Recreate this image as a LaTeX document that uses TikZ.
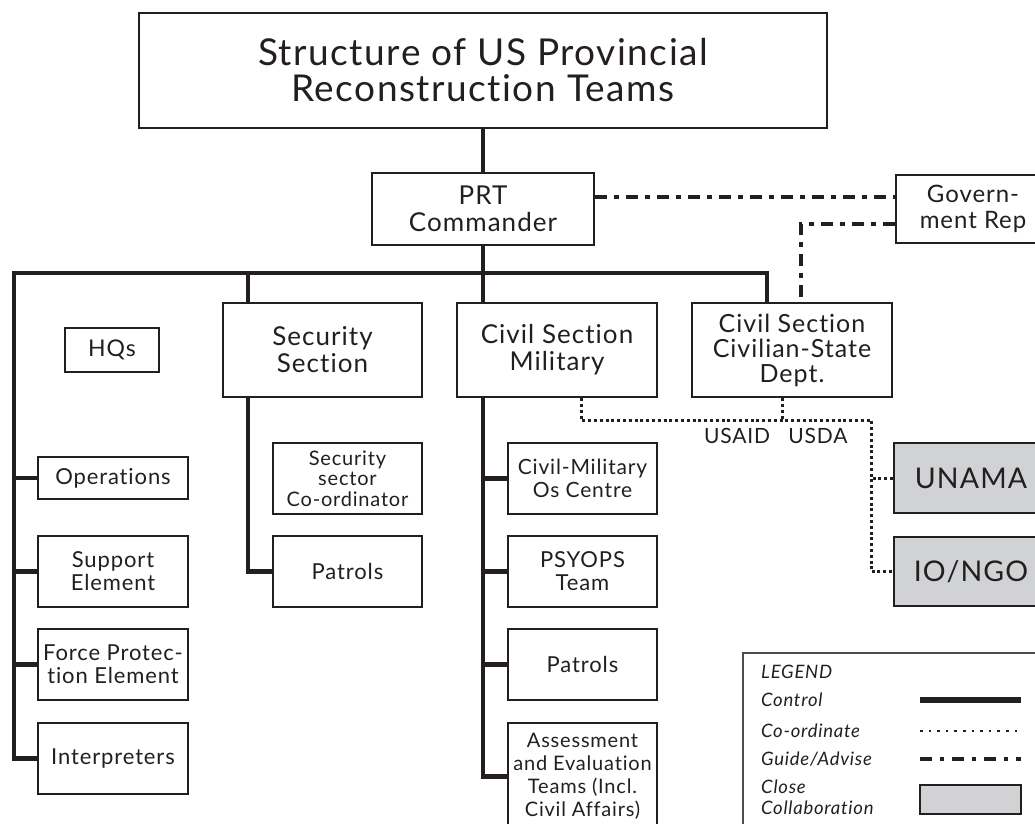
\documentclass[tikz,border=0pt]{standalone}
\usepackage{fontspec}
\setmainfont{Lato}[LetterSpace=4, Ligatures=NoCommon]
\begin{document}
\definecolor{ink}{HTML}{231F20}
\definecolor{collab}{HTML}{D1D2D4}
\newcommand{\fs}[2]{\fontsize{#1}{#2}\selectfont}
\begin{tikzpicture}[x=1pt,y=-1pt,
  box/.style={draw=ink, line width=2.2pt, fill=white, inner sep=0pt,
    align=center, text=ink},
  grey/.style={box, fill=collab},
  ctrl/.style={draw=ink, line width=4.8pt, line join=miter, line cap=butt},
  coord/.style={draw=ink, line width=3pt, dash pattern=on 3pt off 2.8pt},
  guide/.style={draw=ink, line width=4.5pt, dash pattern=on 12pt off 7pt on 5pt off 7pt},
  lbl/.style={text=ink, inner sep=0pt},
  legtxt/.style={lbl, anchor=west, font=\fs{18.5}{19}\itshape}]
\clip (0,0) rectangle (1035,823);
\fill[white] (0,0) rectangle (1035,823);

% top of the hierarchy
\node[box, minimum width=688pt, minimum height=115pt, font=\fs{37}{36}] (title) at (483,70.5)
  {Structure of US Provincial\\Reconstruction Teams};
\node[box, minimum width=222pt, minimum height=72pt, font=\fs{26}{27}] (prt) at (483,209)
  {PRT\\Commander};
\node[box, minimum width=154pt, minimum height=68pt, font=\fs{24}{26}] (gov) at (973,209)
  {Govern-\\ment Rep};

% sections
\node[box, minimum width=94pt, minimum height=44pt, font=\fs{23}{24}] (hq) at (112,350) {HQs};
\node[box, minimum width=199pt, minimum height=94pt, font=\fs{26}{27}] (sec) at (322.5,350)
  {Security\\Section};
\node[box, minimum width=200pt, minimum height=94pt, font=\fs{26}{27}] (csm) at (557,350)
  {Civil Section\\Military};
\node[box, minimum width=200pt, minimum height=94pt, font=\fs{25}{25}] (csc) at (792,350)
  {Civil Section\\Civilian-State\\Dept.};

% headquarters elements
\node[box, minimum width=150pt, minimum height=42pt, font=\fs{22}{23}] (ops) at (113,478) {Operations};
\node[box, minimum width=150pt, minimum height=71pt, font=\fs{22}{23}] (sup) at (113,571.5) {Support\\Element};
\node[box, minimum width=150pt, minimum height=71pt, font=\fs{22}{23}] (fpe) at (113,664.5) {Force Protec-\\tion Element};
\node[box, minimum width=150pt, minimum height=71pt, font=\fs{22}{23}] (int) at (113,758.5) {Interpreters};

% security elements
\node[box, minimum width=149pt, minimum height=71pt, font=\fs{20}{20.5}] (ssc) at (347.5,478.5)
  {Security\\sector\\Co-ordinator};
\node[box, minimum width=149pt, minimum height=71pt, font=\fs{22}{23}] (spat) at (347.5,571.5) {Patrols};

% civil-military elements
\node[box, minimum width=149pt, minimum height=71pt, font=\fs{21}{23}] (cmoc) at (582.5,478.5)
  {Civil-Military\\Os Centre};
\node[box, minimum width=149pt, minimum height=71pt, font=\fs{22}{23}] (psy) at (582.5,571.5) {PSYOPS\\Team};
\node[box, minimum width=149pt, minimum height=71pt, font=\fs{22}{23}] (cpat) at (582.5,664.5) {Patrols};
\node[box, minimum width=149pt, minimum height=107pt, font=\fs{20}{23}] (aet) at (582.5,776.5)
  {Assessment\\and Evaluation\\Teams (Incl.\\Civil Affairs)};

% partners
\node[grey, minimum width=154pt, minimum height=70pt, font=\fs{28.5}{33}] (unama) at (971,478) {UNAMA};
\node[grey, minimum width=154pt, minimum height=69pt, font=\fs{28.5}{33}] (iongo) at (971,571.5) {IO/NGO};

\node[lbl, font=\fs{21}{21}] (usaid) at (737,436) {USAID};
\node[lbl, font=\fs{21}{21}] (usda) at (818,436) {USDA};

% control lines
\coordinate (barL) at (14,273);
\coordinate (barR) at (767,273);
\coordinate (secX) at (248,273);
\draw[ctrl] (title.south) -- (prt.north);
\draw[ctrl] (prt.south) -- (prt.south |- barL);
\draw[ctrl] (int.west) -| (barL) -- (barR) -- (barR |- csc.north);
\foreach \n in {ops,sup,fpe} \draw[ctrl] (\n.west) -- (\n.west -| barL);
\draw[ctrl] (secX) -- (secX |- sec.north);
\draw[ctrl] (secX |- sec.south) |- (spat.west);
\draw[ctrl] (prt.south |- barL) -- (prt.south |- csm.north);
\draw[ctrl] (prt.south |- csm.south) |- (aet.west);
\foreach \n in {cmoc,psy,cpat} \draw[ctrl] (\n.west) -- (\n.west -| prt.south);

% guidance lines
\coordinate (gx) at (801,0);
\draw[guide] ([yshift=12pt]prt.east) -- ([yshift=12pt]gov.west);
\draw[guide] ([yshift=-15pt]gov.west) -| (gx |- csc.north);

% co-ordination lines
\coordinate (c1) at (581,0);
\coordinate (c2) at (782,0);
\coordinate (cy) at (0,420);
\coordinate (cx) at (871,0);
\draw[coord] (c1 |- csm.south) |- (cx |- cy) |- (iongo.west);
\draw[coord] (c2 |- csc.south) -- (c2 |- cy);
\draw[coord] (unama.west) -- (unama.west -| cx);

% legend
\node[draw=ink!80, line width=1.5pt, fill=white, minimum width=307pt, minimum height=190pt, inner sep=0pt]
  (legend) at (896.5,748) {};
\node[legtxt] (lgT) at (761,672) {LEGEND};
\node[legtxt] (lgC) at (761,700) {Control};
\node[legtxt] (lgK) at (761,731) {Co-ordinate};
\node[legtxt] (lgG) at (761,759) {Guide/Advise};
\node[legtxt, align=left, font=\fs{18.5}{21}\itshape] (lgS) at (761,797) {Close\\Collaboration};
\coordinate (s1) at (920,0);
\coordinate (s2) at (1021,0);
\draw[ctrl, line width=6pt] (s1 |- lgC) -- (s2 |- lgC);
\draw[coord, line width=2.6pt, dash pattern=on 2.6pt off 6pt] (s1 |- lgK) -- (s2 |- lgK);
\draw[guide, line width=4.5pt, dash pattern=on 12pt off 8pt on 4pt off 8pt] (s1 |- lgG) -- (s2 |- lgG);
\node[grey, line width=1.6pt, minimum width=101pt, minimum height=29pt] (lgBox) at (970.5,799.5) {};
\end{tikzpicture}
\end{document}
